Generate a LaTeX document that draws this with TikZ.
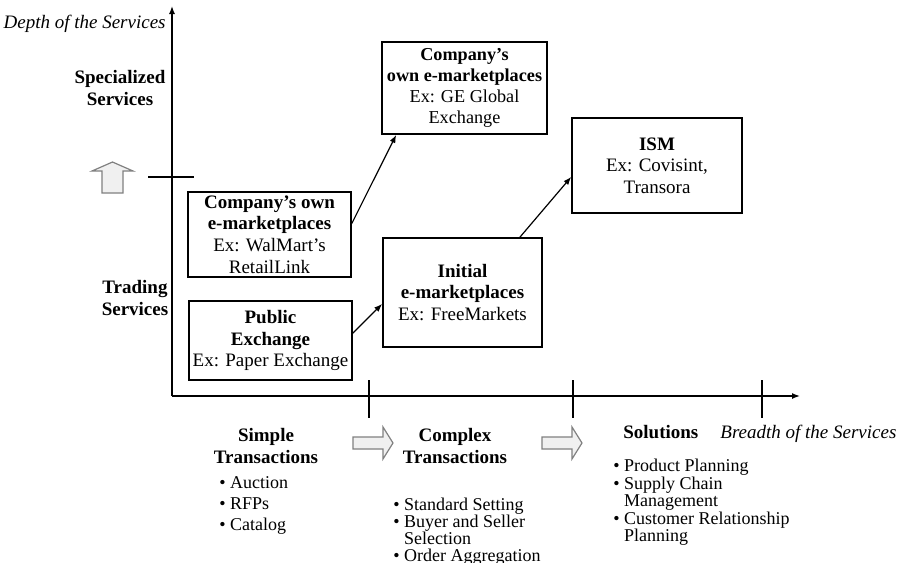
\documentclass[tikz,border=0pt]{standalone}
\usepackage{fontspec}
\setmainfont{Liberation Serif}
\usetikzlibrary{arrows.meta, positioning, calc}

\newcommand{\bul}{\textbullet\ }
\newcommand{\nobul}{\phantom{\textbullet\ }}

\begin{document}
\begin{tikzpicture}[
    x=0.5pt, y=-0.5pt,
    box/.style={draw, line width=0.8pt, inner sep=0pt, align=center, font=\fontsize{9.5}{10.8}\selectfont},
    lbl/.style={align=center, inner sep=0pt, font=\fontsize{9.5}{11}\selectfont\bfseries},
    lst/.style={align=left, inner sep=0pt, anchor=north west},
    blk/.style={draw=gray, fill=gray!12, line width=0.6pt},
    axis/.style={line width=0.7pt},
    >={Latex[length=4pt,width=3pt]}
]
  \useasboundingbox (0,0) rectangle (901,563);

  % axes
  \coordinate (o) at (172,396);
  \coordinate (ytop) at (172,6);
  \coordinate (xend) at (800,396);
  \draw[axis, ->] (o) -- (ytop);
  \draw[axis, ->] (o) -- (xend);
  \draw[axis] (148,177) -- (194,177);
  \foreach \x in {369,573,762}
    \draw[axis] (\x,380) -- (\x,418);

  \node[anchor=base east, inner sep=0pt, font=\fontsize{9.5}{11}\selectfont\itshape] (depth) at (166,28) {Depth of the Services};
  \node[lbl] (spec) at (120,88) {Specialized\\ Services};
  \node[lbl] (trad) at (135,298) {Trading\\ Services};

  % up arrow between the two service levels
  \draw[blk] (102,193) -- (102,171) -- (92,171) -- (112.5,162) -- (133,171) -- (123,171) -- (123,193) -- cycle;

  % e-marketplace boxes
  \node[box, minimum width=81.5pt, minimum height=42.5pt] (ownA) at (269.5,234.5)
    {\textbf{Company's own}\\ \textbf{e-marketplaces}\\ Ex: WalMart's\\ RetailLink};
  \node[box, minimum width=81.5pt, minimum height=39.5pt] (pub) at (270.5,340.5)
    {\textbf{Public}\\ \textbf{Exchange}\\ Ex: Paper Exchange};
  \node[box, minimum width=82.5pt, minimum height=46pt, font=\fontsize{9.1}{10.6}\selectfont] (ownB) at (464.5,88)
    {\textbf{Company's}\\ \textbf{own e-marketplaces}\\ Ex: GE Global\\ Exchange};
  \node[box, minimum width=79.5pt, minimum height=54.5pt] (init) at (462.5,292.5)
    {\textbf{Initial}\\ \textbf{e-marketplaces}\\ Ex: FreeMarkets};
  \node[box, minimum width=85pt, minimum height=47.5pt] (ism) at (657,165.5)
    {\textbf{ISM}\\ Ex: Covisint,\\ Transora};

  \draw[->, line width=0.6pt] ([yshift=5.5pt]ownA.east) -- ([xshift=7.5pt]ownB.south west);
  \draw[->, line width=0.6pt] ([yshift=3.7pt]pub.east) -- ([yshift=-5.7pt]init.west);
  \draw[->, line width=0.6pt] ([xshift=28.7pt]init.north) -- ([yshift=-5.7pt]ism.west);

  % breadth of the services
  \node[lbl] (simple) at (266,446) {Simple\\ Transactions};
  \node[lbl] (complex) at (455,446) {Complex\\ Transactions};
  \node[lbl, anchor=base west] (sol) at (623,438) {Solutions};
  \node[anchor=base west, inner sep=0pt, font=\fontsize{9.5}{11}\selectfont\itshape] (breadth) at (720,438) {Breadth of the Services};

  \foreach \x in {353,542}
    \draw[blk] (\x,437) -- ++(30,0) -- ++(0,-10) -- ++(10,16) -- ++(-10,16) -- ++(0,-10) -- ++(-30,0) -- cycle;

  \node[lst, font=\fontsize{9}{10.5}\selectfont] (simpleL) at (219,476)
    {\bul Auction\\ \bul RFPs\\ \bul Catalog};
  \node[lst, font=\fontsize{9}{8.4}\selectfont] (complexL) at (393,498)
    {\bul Standard Setting\\ \bul Buyer and Seller\\ \nobul Selection\\ \bul Order Aggregation};
  \node[lst, font=\fontsize{9}{8.7}\selectfont] (solL) at (613,459)
    {\bul Product Planning\\ \bul Supply Chain\\ \nobul Management\\ \bul Customer Relationship\\ \nobul Planning};
\end{tikzpicture}
\end{document}
